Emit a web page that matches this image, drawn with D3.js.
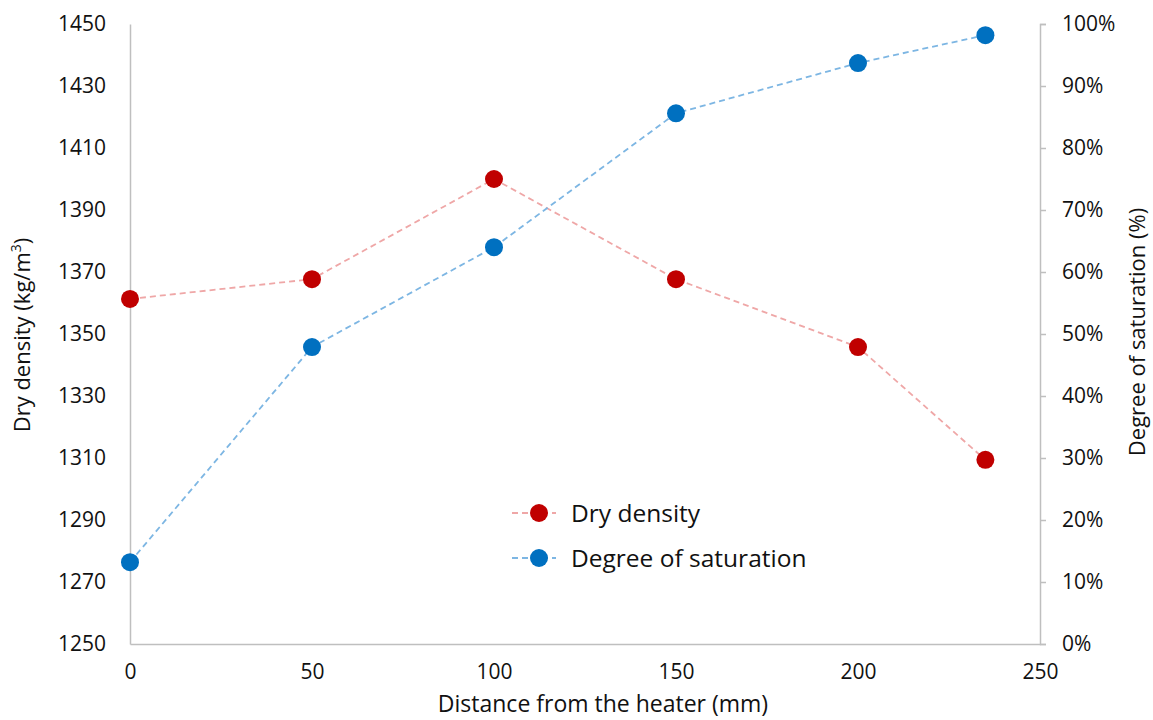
<!DOCTYPE html>
<html>
<head>
<meta charset="utf-8">
<script src="https://cdn.jsdelivr.net/npm/d3@7"></script>
<style>
  body { margin: 0; background: #fff; }
  svg text { font-family: "Open Sans", "Liberation Sans", sans-serif; fill: #111; }
</style>
</head>
<body>
<svg id="chart" width="1153" height="720"></svg>
<script>
// Distance from the heater (mm)
const distance = [0, 50, 100, 150, 200, 235];
// Dry density (kg/m3)
const dryDensity = [1361.3, 1367.7, 1400.0, 1367.7, 1345.8, 1309.4];
// Degree of saturation (%)
const saturation = [13.2, 47.9, 64.0, 85.6, 93.7, 98.2];

const xTicks = [0, 50, 100, 150, 200, 250];
const leftTicks = [1250, 1270, 1290, 1310, 1330, 1350, 1370, 1390, 1410, 1430, 1450];
const rightTicks = [0, 10, 20, 30, 40, 50, 60, 70, 80, 90, 100];

const seriesNames = ["Dry density", "Degree of saturation"];

const svg = d3.select("#chart");
const plot = { left: 130, right: 1040, top: 24, bottom: 644 };

const x = d3.scaleLinear().domain([0, 250]).range([plot.left, plot.right]);
const yL = d3.scaleLinear().domain([1250, 1450]).range([plot.bottom, plot.top]);
const yR = d3.scaleLinear().domain([0, 100]).range([plot.bottom, plot.top]);

const axisColor = "#bfbfbf";
const tickFont = 21;

// Bottom axis
const gx = svg.append("g").attr("transform", `translate(0,${plot.bottom})`)
  .call(d3.axisBottom(x).tickValues(xTicks).tickSize(0).tickPadding(20));
gx.select(".domain").attr("stroke", axisColor).attr("stroke-width", 1.5);
gx.selectAll(".tick text").attr("font-size", tickFont);

// Left axis
const gl = svg.append("g").attr("transform", `translate(${plot.left},0)`)
  .call(d3.axisLeft(yL).tickValues(leftTicks).tickSize(0).tickPadding(24).tickFormat(d3.format("d")));
gl.select(".domain").attr("stroke", axisColor).attr("stroke-width", 1.5);
gl.selectAll(".tick text").attr("font-size", tickFont);

// Right axis
const gr = svg.append("g").attr("transform", `translate(${plot.right},0)`)
  .call(d3.axisRight(yR).tickValues(rightTicks).tickSize(6).tickPadding(16).tickFormat(d => d + "%"));
gr.select(".domain").attr("stroke", axisColor).attr("stroke-width", 1.5);
gr.selectAll(".tick line").attr("stroke", axisColor).attr("stroke-width", 1.5);
gr.selectAll(".tick text").attr("font-size", tickFont);

// Axis titles
svg.append("text").attr("x", (plot.left + plot.right) / 2 + 18).attr("y", 712)
  .attr("text-anchor", "middle").attr("font-size", 23)
  .text("Distance from the heater (mm)");

const lt = svg.append("text").attr("transform", "translate(30,335) rotate(-90)")
  .attr("text-anchor", "middle").attr("font-size", 22);
lt.append("tspan").text("Dry density (kg/m");
lt.append("tspan").attr("font-size", 14).attr("dy", -9).text("3");
lt.append("tspan").attr("dy", 9).text(")");

svg.append("text").attr("transform", "translate(1145,332) rotate(-90)")
  .attr("text-anchor", "middle").attr("font-size", 22)
  .text("Degree of saturation (%)");

// Series
const series = [
  { name: seriesNames[0], values: dryDensity, y: yL, color: "#C00000", line: "#EFA7A7" },
  { name: seriesNames[1], values: saturation, y: yR, color: "#0070C0", line: "#7DB6E3" }
];

series.forEach(s => {
  const pts = distance.map((d, i) => [d, s.values[i]]);
  svg.append("path").datum(pts)
    .attr("fill", "none").attr("stroke", s.line).attr("stroke-width", 1.8)
    .attr("stroke-dasharray", "6,4")
    .attr("d", d3.line().x(p => x(p[0])).y(p => s.y(p[1])));
  svg.append("g").selectAll("circle").data(pts).join("circle")
    .attr("cx", p => x(p[0])).attr("cy", p => s.y(p[1])).attr("r", 9)
    .attr("fill", s.color);
});

// Legend
const legend = svg.append("g");
series.forEach((s, i) => {
  const ly = 513 + i * 45;
  legend.append("line").attr("x1", 512).attr("x2", 556).attr("y1", ly).attr("y2", ly)
    .attr("stroke", s.line).attr("stroke-width", 1.8).attr("stroke-dasharray", "6,4");
  legend.append("circle").attr("cx", 539).attr("cy", ly).attr("r", 9).attr("fill", s.color);
  legend.append("text").attr("x", 571).attr("y", ly + 9).attr("font-size", 24.5).text(s.name);
});
</script>
</body>
</html>
